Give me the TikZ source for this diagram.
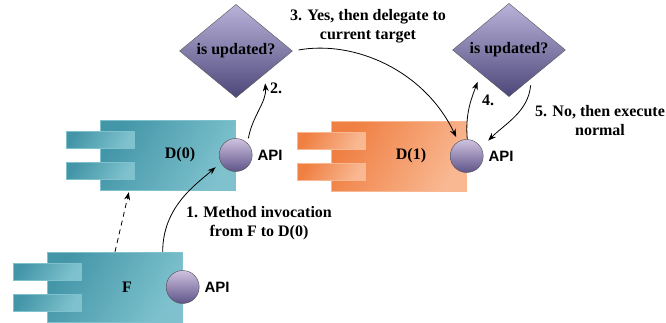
\documentclass[tikz,border=0pt]{standalone}
\usepackage{fontspec}
\setmainfont{Liberation Serif}
\newfontfamily\apifont{Liberation Sans}
\usepackage{tikz}
\usetikzlibrary{arrows.meta,shapes.geometric,calc}
\tikzset{>={Stealth[length=8pt,width=6pt]}}
\definecolor{tealDk}{HTML}{4396A8}
\definecolor{tealLt}{HTML}{7FC2CE}
\definecolor{orgDk}{HTML}{EF7F42}
\definecolor{orgLt}{HTML}{F9B892}
\definecolor{diaTop}{HTML}{B9B3DA}
\definecolor{diaBot}{HTML}{4C4779}
\definecolor{apiTop}{HTML}{CFC2E0}
\definecolor{apiBot}{HTML}{5E5489}
\tikzset{
  compbody/.style={rectangle,draw=#1Lt,thin,left color=#1Dk,right color=#1Lt,
    shading angle=60,minimum width=135pt,minimum height=70pt,inner sep=0pt},
  comptab/.style={draw=#1Lt,thin,left color=#1Dk,right color=#1Lt,shading angle=60},
  apiball/.style={circle,draw=black!70,thin,top color=apiTop,bottom color=apiBot,
    minimum size=33pt,inner sep=0pt},
  apilbl/.style={font=\apifont\bfseries\fontsize{15}{15}\selectfont,inner sep=0pt},
  lbl/.style={font=\bfseries\fontsize{16}{18.5}\selectfont,align=center,inner sep=0pt},
  isupd/.style={diamond,draw=black!65,thin,top color=diaTop,bottom color=diaBot,
    minimum width=113pt,minimum height=82pt,inner sep=0pt,
    font=\bfseries\fontsize{16}{16}\selectfont},
  flow/.style={->,line width=0.8pt}
}
% component: name, centre, text, colour
\newcommand{\component}[4]{%
  \node[compbody=#4] (#1) at (#2) {};
  \draw[comptab=#4] ([shift={(-34,7)}]#1.west) rectangle ([shift={(34,24)}]#1.west);
  \draw[comptab=#4] ([shift={(-34,-24)}]#1.west) rectangle ([shift={(34,-7)}]#1.west);
  \node[lbl] (#1txt) at ([xshift=12]#1.center) {#3};
  \node[apiball] (#1api) at (#1.east) {};
  \node[apilbl,anchor=west] (#1apilbl) at ([xshift=5]#1api.east) {API};
}

\begin{document}
\begin{tikzpicture}[x=1pt,y=1pt]
\useasboundingbox (0,0) rectangle (666,322);
\component{f}{115,35}{F}{teal}
\component{dz}{168,167}{D(0)}{teal}
\component{dn}{399,166}{D(1)}{org}
\node[isupd] (ldia) at (236,271) {is updated?};
\node[isupd] (rdia) at (509,272) {is updated?};
% step labels
\node[lbl] (step1) at (259,99) {1. Method invocation\\from F to D(0)};
\node[lbl] (step2) at (276,234) {2.};
\node[lbl] (step3) at (368,296) {3. Yes, then delegate to\\current target};
\node[lbl] (step4) at (488,222) {4.};
\node[lbl] (step5) at (600,201.5) {5. No, then execute\\normal};
% connectors
\draw[flow,dash pattern=on 5pt off 4pt,shorten >=2pt] (f.north) -- ([xshift=29]dz.south west);
\draw[flow,shorten >=7pt] ([xshift=-20]f.north east) .. controls +(0,45) and +(-25,-22) .. (dzapi.207);
\draw[flow,shorten <=5pt,shorten >=9pt] (dzapi.45) to[out=80,in=-85] (ldia.south east);
\draw[flow,shorten <=6pt,shorten >=5pt] (ldia.east) .. controls +(62,11) and +(-34,71) .. (dnapi.120);
\draw[flow,shorten >=9pt] (dnapi.88) to[out=95,in=250] (rdia.south west);
\draw[flow,shorten <=7pt,shorten >=10pt] (rdia.-52) to[out=-95,in=45] (dnapi.30);
\end{tikzpicture}
\end{document}
